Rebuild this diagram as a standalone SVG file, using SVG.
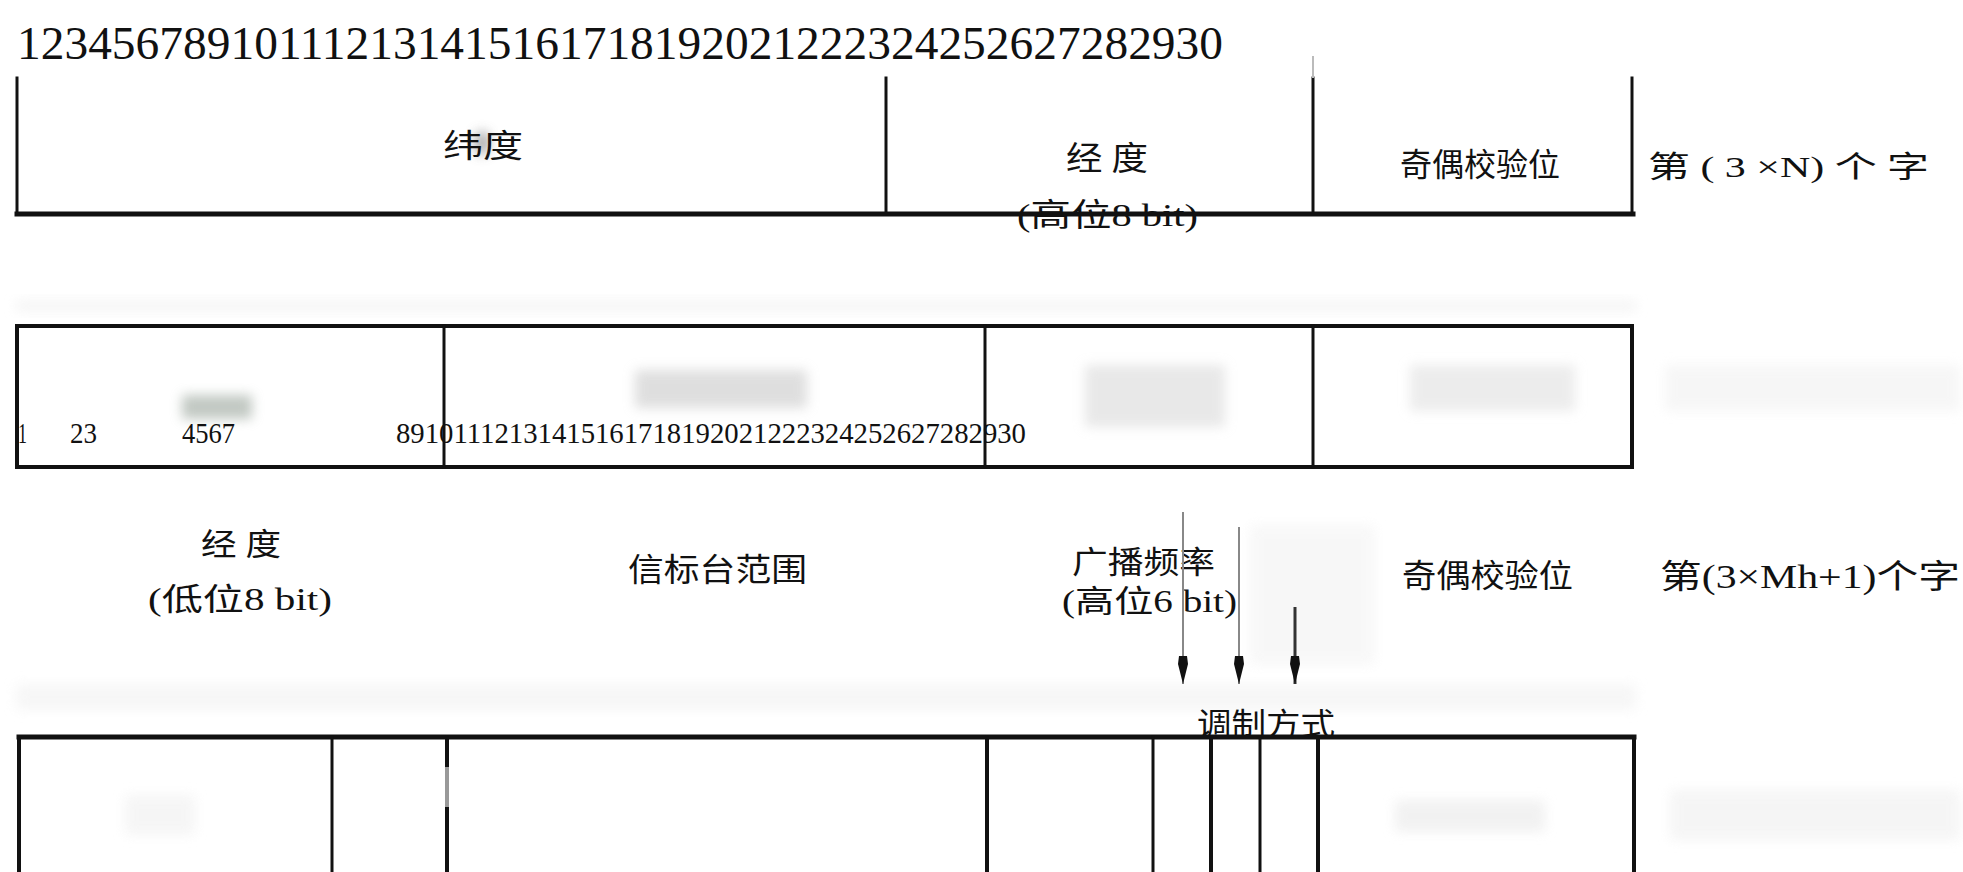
<svg xmlns="http://www.w3.org/2000/svg" width="1963" height="872" viewBox="0 0 1963 872">
<style>
.ln{stroke:#111;stroke-linecap:square;fill:none}
.o{stroke-width:4}
.d{stroke-width:3}
.t{font-family:"Liberation Serif","Noto Sans CJK SC",serif;fill:#111}
.n{font-family:"Liberation Serif",serif;fill:#111}
.blob{filter:url(#bl)}
</style>
<defs>
<filter id="bl" x="-50%" y="-50%" width="200%" height="200%"><feGaussianBlur stdDeviation="6"/></filter>
<marker id="ah" markerUnits="userSpaceOnUse" markerWidth="30" markerHeight="12" refX="28" refY="6" orient="auto" viewBox="0 0 30 12">
<path d="M0,2 L8,1 L28,6 L8,11 L0,10 Z" fill="#111"/>
</marker>
</defs>
<rect width="1963" height="872" fill="#fff"/>

<!-- faint scan artifacts -->
<g id="artifacts">
<rect x="16" y="300" width="1620" height="12" fill="#efefef" opacity="0.6" class="blob"/>
<rect x="16" y="684" width="1620" height="26" fill="#f1f1f1" opacity="0.6" class="blob"/>
<ellipse cx="482" cy="143" rx="8" ry="12" fill="#999" opacity="0.8" class="blob"/>
<rect x="182" y="395" width="70" height="24" fill="#9aa59b" opacity="0.6" class="blob"/>
<rect x="635" y="370" width="172" height="38" fill="#c4c4c4" opacity="0.55" class="blob"/>
<rect x="1085" y="365" width="140" height="62" fill="#d2d2d2" opacity="0.5" class="blob"/>
<rect x="1410" y="365" width="165" height="46" fill="#dadada" opacity="0.5" class="blob"/>
<rect x="1665" y="365" width="295" height="46" fill="#eeeeee" opacity="0.5" class="blob"/>
<rect x="1250" y="525" width="125" height="140" fill="#f5f5f5" opacity="0.7" class="blob"/>
<rect x="125" y="795" width="70" height="40" fill="#f2f2f2" opacity="0.7" class="blob"/>
<rect x="1395" y="800" width="150" height="32" fill="#ececec" opacity="0.7" class="blob"/>
<rect x="1670" y="790" width="290" height="50" fill="#f2f2f2" opacity="0.7" class="blob"/>
</g>

<text class="n" x="17" y="59" font-size="47" textLength="1206" lengthAdjust="spacingAndGlyphs">123456789101112131415161718192021222324252627282930</text>

<!-- Row 1 : word 3N -->
<g id="row1">
<line class="ln d" x1="17" y1="78" x2="17" y2="214"/>
<line class="ln d" x1="886" y1="78" x2="886" y2="214"/>
<line class="ln d" x1="1313" y1="78" x2="1313" y2="214"/>
<line x1="1313" y1="56" x2="1313" y2="78" stroke="#bbb" stroke-width="2"/>
<line class="ln d" x1="1632" y1="78" x2="1632" y2="214"/>
<line class="ln" x1="17" y1="214" x2="1633" y2="214" stroke-width="5"/>
</g>
<g id="r1-lat"><text class="t" x="443" y="157" font-size="32" textLength="80" lengthAdjust="spacingAndGlyphs">纬度</text></g>
<g id="r1-lon"><text class="t" x="1066" y="170" font-size="33" textLength="82" lengthAdjust="spacingAndGlyphs">经 度</text>
<text class="t" x="1017" y="226" font-size="32" textLength="181" lengthAdjust="spacingAndGlyphs">(高位8 bit)</text></g>
<g id="r1-parity"><text class="t" x="1400" y="176" font-size="32" textLength="160" lengthAdjust="spacingAndGlyphs">奇偶校验位</text></g>
<g id="r1-label"><text class="t" x="1648" y="177" font-size="30" textLength="281" lengthAdjust="spacingAndGlyphs">第 ( 3 ×N) 个 字</text></g>

<!-- Row 2 -->
<g id="row2">
<rect class="ln o" x="17" y="326" width="1615" height="141"/>
<line class="ln d" x1="444" y1="326" x2="444" y2="467"/>
<line class="ln d" x1="985" y1="326" x2="985" y2="467"/>
<line class="ln d" x1="1313" y1="326" x2="1313" y2="467"/>
</g>
<g id="r2-bits">
<text class="n" x="18" y="443" font-size="29" textLength="9" lengthAdjust="spacingAndGlyphs">1</text>
<text class="n" x="70" y="443" font-size="29" textLength="27" lengthAdjust="spacingAndGlyphs">23</text>
<text class="n" x="182" y="443" font-size="29" textLength="53" lengthAdjust="spacingAndGlyphs">4567</text>
<text class="n" x="396" y="443" font-size="29" textLength="630" lengthAdjust="spacingAndGlyphs">89101112131415161718192021222324252627282930</text>
</g>
<g id="r2-lon"><text class="t" x="201" y="555" font-size="31" textLength="80" lengthAdjust="spacingAndGlyphs">经 度</text>
<text class="t" x="148" y="610" font-size="31" textLength="184" lengthAdjust="spacingAndGlyphs">(低位8 bit)</text></g>
<g id="r2-range"><text class="t" x="628" y="581" font-size="32" textLength="179" lengthAdjust="spacingAndGlyphs">信标台范围</text></g>
<g id="r2-freq"><text class="t" x="1072" y="573" font-size="31" textLength="143" lengthAdjust="spacingAndGlyphs">广播频率</text>
<text class="t" x="1062" y="612" font-size="31" textLength="175" lengthAdjust="spacingAndGlyphs">(高位6 bit)</text></g>
<g id="r2-parity"><text class="t" x="1402" y="587" font-size="32" textLength="171" lengthAdjust="spacingAndGlyphs">奇偶校验位</text></g>
<g id="r2-label"><text class="t" x="1660" y="588" font-size="33" textLength="300" lengthAdjust="spacingAndGlyphs">第(3×Mh+1)个字</text></g>

<!-- connectors -->
<g id="connectors">
<line x1="1183" y1="512" x2="1183" y2="684" stroke="#888" stroke-width="2" marker-end="url(#ah)"/>
<line x1="1239" y1="527" x2="1239" y2="684" stroke="#888" stroke-width="2" marker-end="url(#ah)"/>
<line x1="1295" y1="607" x2="1295" y2="684" stroke="#333" stroke-width="3" marker-end="url(#ah)"/>
</g>
<g id="r3-mod"><text class="t" x="1197" y="735" font-size="31" textLength="138" lengthAdjust="spacingAndGlyphs">调制方式</text></g>

<!-- Row 3 -->
<g id="row3">
<line class="ln" x1="19" y1="737" x2="1634" y2="737" stroke-width="5"/>
<line class="ln o" x1="19" y1="737" x2="19" y2="875"/>
<line class="ln d" x1="332" y1="737" x2="332" y2="875"/>
<line class="ln o" x1="447" y1="737" x2="447" y2="875"/>
<line x1="447" y1="767" x2="447" y2="807" stroke="#999" stroke-width="4"/>
<line class="ln o" x1="987" y1="737" x2="987" y2="875"/>
<line class="ln d" x1="1153" y1="737" x2="1153" y2="875"/>
<line class="ln o" x1="1211" y1="737" x2="1211" y2="875"/>
<line class="ln d" x1="1260" y1="737" x2="1260" y2="875"/>
<line class="ln o" x1="1318" y1="737" x2="1318" y2="875"/>
<line class="ln o" x1="1634" y1="737" x2="1634" y2="875"/>
</g>
</svg>
